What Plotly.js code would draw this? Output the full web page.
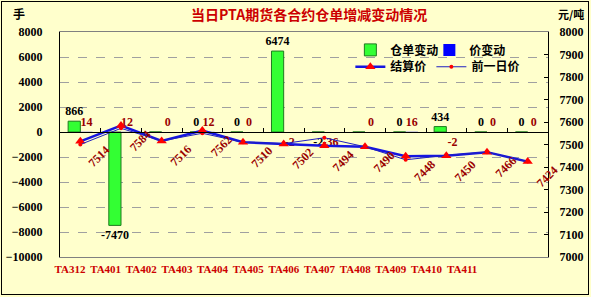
<!DOCTYPE html>
<html><head><meta charset="utf-8">
<script src="https://cdn.plot.ly/plotly-3.0.1.min.js"></script>
<style>
body{margin:0;padding:0;background:#fff;}
#wrap{position:relative;width:591px;height:297px;}
#chart{width:591px;height:297px;}
#frame{position:absolute;left:1px;top:1px;width:586px;height:292px;border:1px solid #000;pointer-events:none;}
</style></head>
<body><div id="wrap"><div id="chart"></div><div id="frame"></div></div>
<script>
const categories = ['TA312','TA401','TA402','TA403','TA404','TA405','TA406','TA407','TA408','TA409','TA410','TA411'];
const warrantChange = [866, -7470, 0, 0, 0, 6474, -2, 0, 0, 434, 0, 0];
const warrantLabelShown = [true, true, false, true, true, true, true, false, true, true, true, true];
const priceChange = [14, 12, 0, 12, 0, -2, -36, 0, 16, -2, 0, 0];
const settlePrice = [7514, 7584, 7516, 7562, 7510, 7502, 7494, 7490, 7448, 7450, 7466, 7424];
const prevPrice = [7500, 7572, 7516, 7550, 7510, 7504, 7530, 7490, 7432, 7452, 7466, 7424];

const BG = '#FFFFCC';
const DARKRED = '#990000';
const numFont = {family: 'Liberation Serif', size: 12, color: '#000', weight: 'bold'};
const legFont = {family:'Noto Sans CJK SC', size:12, color:'#000', weight:'bold'};
const tickIndex = categories.map((c,i)=>i);

const traces = [
  {type:'bar', name:'仓单变动', x:categories, y:warrantChange,
   marker:{color:'#33FF33', line:{color:'#1f7a1f', width:1}},
   text: warrantChange.map((v,i)=> warrantLabelShown[i] ? String(v) : ''),
   textposition:'outside', constraintext:'none', cliponaxis:false,
   textfont:{family:'Liberation Serif', size:12, color:'#000', weight:'bold'},
   legend:'legend'},
  {type:'bar', name:'价变动', x:categories, y:priceChange,
   marker:{color:'#0000FF', line:{color:'#000080', width:0}},
   text: priceChange.map(v=>String(v)),
   textposition:'outside', constraintext:'none', cliponaxis:false,
   textfont:{family:'Liberation Serif', size:12, color:DARKRED, weight:'bold'},
   legend:'legend'},
  {type:'scatter', mode:'lines+markers', name:'结算价', x:categories, y:settlePrice, yaxis:'y2',
   line:{color:'#1515E0', width:2.5}, marker:{symbol:'triangle-up', color:'#FF0000', size:9},
   legend:'legend2'},
  {type:'scatter', mode:'lines+markers', name:'前一日价', x:categories, y:prevPrice, xaxis:'x2', yaxis:'y2',
   line:{color:'#2020C0', width:1}, marker:{symbol:'circle', color:'#FF0000', size:4},
   legend:'legend2'},
  {type:'scatter', mode:'markers', x:tickIndex, y:tickIndex.map(()=>null), xaxis:'x3', yaxis:'y',
   showlegend:false, hoverinfo:'skip', marker:{opacity:0}}
];

const annotations = settlePrice.map((v,i)=>({
  x:categories[i], y:v, xref:'x', yref:'y2', text:String(v), textangle:-45,
  showarrow:false, xshift:19, yshift:-15,
  font:{family:'Liberation Serif', size:12, color:DARKRED, weight:'bold'}
}));
annotations.push(
  {text:'当日PTA期货各合约仓单增减变动情况', xref:'paper', yref:'paper', x:0.51, y:1.08, xanchor:'center', yanchor:'middle', showarrow:false,
   font:{family:'Noto Sans CJK SC', size:14, color:'#CC0000', weight:'bold'}},
  {text:'手', xref:'paper', yref:'paper', x:-0.085, y:1.08, xanchor:'center', yanchor:'middle', showarrow:false,
   font:{family:'Noto Sans CJK SC', size:12, color:'#000', weight:'bold'}},
  {text:'元/吨', xref:'paper', yref:'paper', x:1.048, y:1.08, xanchor:'center', yanchor:'middle', showarrow:false,
   font:{family:'Noto Sans CJK SC', size:11, color:'#000', weight:'bold'}}
);

const layout = {
  width:591, height:297,
  margin:{l:60, r:43, t:32, b:40},
  paper_bgcolor:BG, plot_bgcolor:BG,
  barmode:'group', bargap:0.4, bargroupgap:0,
  showlegend:true,
  legend:{orientation:'h', x:0.595, y:0.985, xanchor:'left', yanchor:'top', bgcolor:'rgba(0,0,0,0)',
    entrywidth:34, itemwidth:30, font:legFont},
  legend2:{orientation:'h', x:0.595, y:0.91, xanchor:'left', yanchor:'top', bgcolor:'rgba(0,0,0,0)',
    entrywidth:0, itemwidth:30, font:legFont},
  xaxis:{type:'category', categoryarray:categories, range:[-0.5,11.5],
    showline:true, linecolor:'#808080', linewidth:1, mirror:true, ticks:'',
    showgrid:false, zeroline:false, showticklabels:false},
  xaxis2:{type:'category', categoryarray:categories, range:[-0.5,11.5], overlaying:'x',
    anchor:'free', position:0.5556, showline:true, linecolor:'#000', linewidth:1,
    ticks:'inside', ticklen:4, tickcolor:'#000', tickson:'boundaries', showticklabels:false, showgrid:false},
  xaxis3:{type:'linear', range:[-0.28,13.41], overlaying:'x', anchor:'y', side:'bottom',
    tickmode:'array', tickvals:tickIndex, ticktext:categories,
    showline:false, showgrid:false, zeroline:false, ticks:'',
    tickfont:{family:'Liberation Serif', size:11, color:'#CC0000', weight:'bold'}, ticklabelstandoff:4},
  yaxis:{range:[-10000,8000], dtick:2000, tickformat:'d', showgrid:true, gridcolor:'#A0A0A0', griddash:'dash', gridwidth:1,
    zeroline:true, zerolinecolor:'#000', zerolinewidth:1,
    showline:true, linecolor:'#000', linewidth:1, ticks:'', tickfont:numFont, ticklabelstandoff:14},
  yaxis2:{range:[7000,8000], dtick:100, overlaying:'y', side:'right', anchor:'x',
    showgrid:false, zeroline:false, showline:true, linecolor:'#000', linewidth:1,
    ticks:'inside', ticklen:4, tickcolor:'#000', tickfont:numFont, ticklabelstandoff:8},
  annotations:annotations
};

Plotly.newPlot('chart', traces, layout, {staticPlot:true});
</script></body></html>
